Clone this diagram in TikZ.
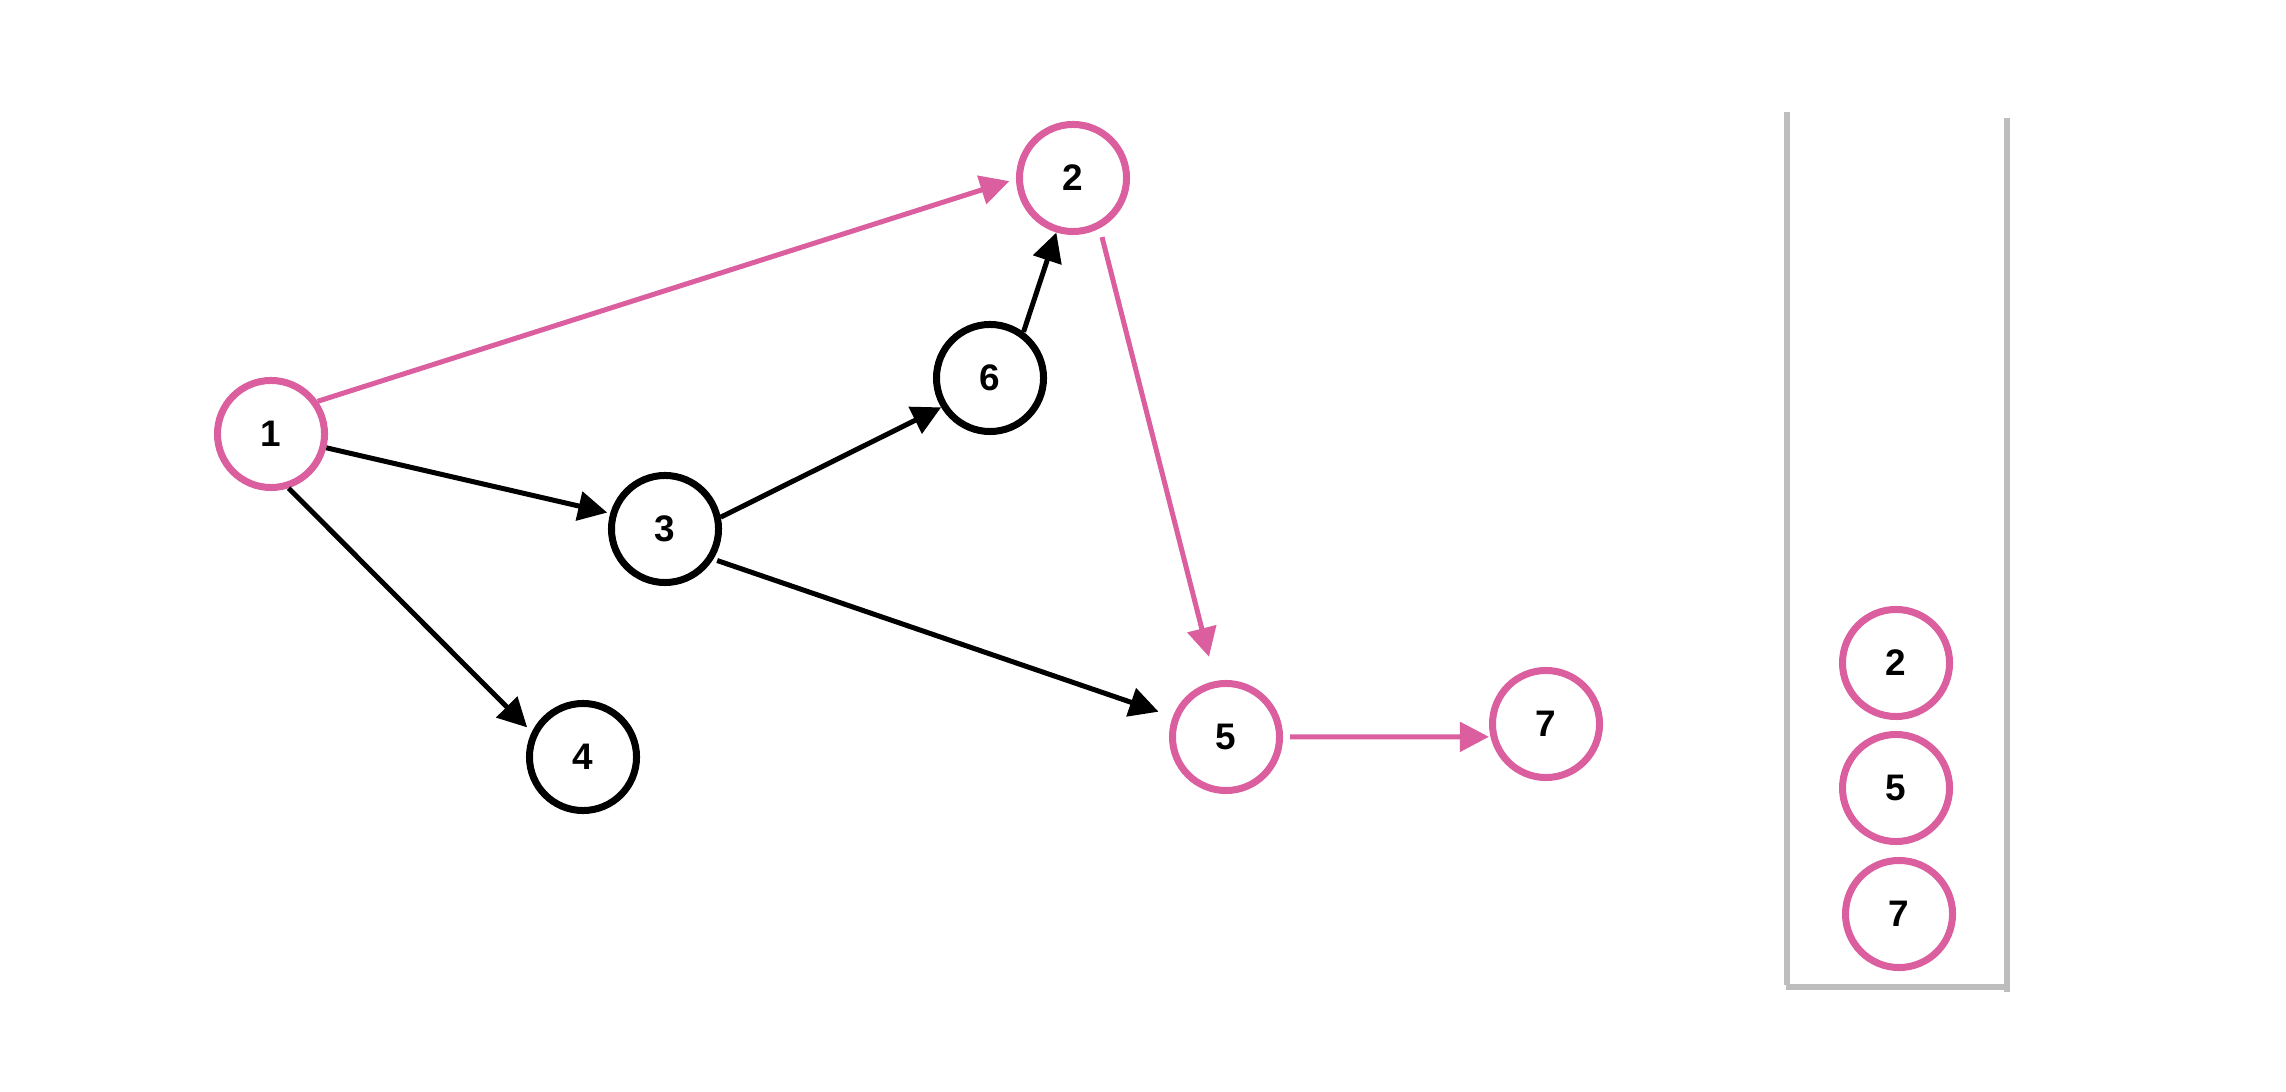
\documentclass[tikz,border=0pt]{standalone}
\usepackage{fontspec}
\setmainfont{Liberation Sans}
\usetikzlibrary{arrows.meta}
\definecolor{hl}{HTML}{DB5E9E}
\definecolor{wall}{HTML}{BDBDBD}
\begin{document}
\begin{tikzpicture}[x=0.01cm,y=-0.01cm,
  vtx/.style={circle,draw=black,line width=0.07cm,minimum size=1.07cm,inner sep=0pt,
    font=\fontsize{10.5}{12}\selectfont\bfseries},
  visited/.style={vtx,draw=hl},
  edge/.style={line width=0.05cm,-{Triangle[length=0.29cm,width=0.29cm]}},
  hledge/.style={edge,color=hl},
  wallline/.style={draw=wall,line width=0.06cm}
]
\useasboundingbox[fill=white] (0,0) rectangle (2286,1092);

% graph vertices
\node[visited] (n1) at (271,434) {1};
\node[visited] (n2) at (1073,178) {2};
\node[vtx]     (n6) at (990,378) {6};
\node[vtx]     (n3) at (665,529) {3};
\node[vtx]     (n4) at (583,757) {4};
\node[visited] (n5) at (1226,737) {5};
\node[visited] (n7) at (1546,724) {7};

% edges
\draw[hledge,shorten >=0.7mm] (n1.35) -- (n2.181);
\draw[edge,shorten >=0.3mm] (n1.-14) -- (n3.164);
\draw[edge,shorten >=0.65mm] (n1.-72) -- (n4.154);
\draw[edge] (n3.12) -- (n6.211);
\draw[edge] (n6.54) -- (n2.253);
\draw[hledge,shorten <=0.9mm,shorten >=2.5mm] (n2.-62) -- (n5.101);
\draw[edge,shorten <=0.4mm,shorten >=1.5mm] (n3.-32) -- (n5.159);
\draw[hledge,shorten <=0.7mm,shorten >=0.15mm] (n5.0) -- (n7.193);

% stack container
\coordinate (wl0) at (1787,112);
\coordinate (wl1) at (1787,985);
\coordinate (wr0) at (2007,118);
\coordinate (wr1) at (2007,992);
\coordinate (wb0) at (1786,987);
\coordinate (wb1) at (2006,987);
\draw[wallline] (wl0) -- (wl1);
\draw[wallline] (wr0) -- (wr1);
\draw[wallline] (wb0) -- (wb1);

% stack contents
\node[visited] (s2) at (1896,663) {2};
\node[visited] (s5) at (1896,788) {5};
\node[visited] (s7) at (1899,914) {7};
\end{tikzpicture}
\end{document}
